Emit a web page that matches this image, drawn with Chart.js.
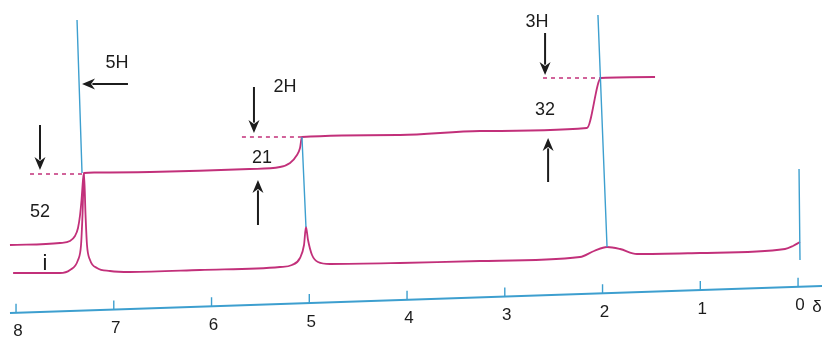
<!DOCTYPE html>
<html>
<head>
<meta charset="utf-8">
<script src="https://cdn.jsdelivr.net/npm/chart.js@4.4.1/dist/chart.umd.min.js"></script>
<style>
  html, body { margin: 0; padding: 0; background: #fff; }
  #wrap { width: 822px; height: 340px; }
</style>
</head>
<body>
<div id="wrap"><canvas id="nmr" width="822" height="340"></canvas></div>
<script>
// 1H trace: chemical shift (ppm) and signal height
const traceShift = [8.03, 7.55, 7.448, 7.366, 7.335, 7.32, 7.305, 7.289, 7.274, 7.243, 7.172, 7.039, 6.834, 6.12,
  5.30, 5.177, 5.095, 5.054, 5.034, 5.013, 4.972, 4.911, 4.788, 4.072, 3.253, 2.231, 2.087, 1.954, 1.821, 1.648,
  1.003, 0.133, 0.052, -0.02];
const traceHeight = [27, 27, 30, 40, 55, 85, 127, 85, 55, 40, 32, 29, 28, 30,
  33, 35, 42, 55, 73, 60, 45, 38, 36, 37, 39, 43, 49, 53, 51, 46,
  47, 51, 54, 58];

// integration curve
const integralShift = [8.062, 7.55, 7.448, 7.397, 7.366, 7.345, 7.33, 7.315, 7.305, 7.2, 6.63, 5.61, 5.30, 5.197,
  5.126, 5.095, 5.075, 4.072, 3.253, 2.16, 2.016, 1.463];
const integralHeight = [55, 57, 59, 64, 72, 85, 100, 120, 127, 127.5, 128, 131, 133, 137,
  145, 152, 163, 165, 169, 172, 222, 223];

// vertical markers dropped from each integral step to its peak
const markerTopShift = [7.376, 5.075, 2.047, -0.010];
const markerTopHeight = [280, 163, 285, 131];
const markerBottomShift = [7.325, 5.034, 1.954, -0.020];
const markerBottomHeight = [127, 73, 53, 40];

// dashed level lines at the top of each step
const levelStart = [7.857, 5.689, 2.609];
const levelEnd = [7.325, 5.075, 2.026];
const levelHeight = [126, 163, 222];

// ppm scale
const tickValues = [8, 7, 6, 5, 4, 3, 2, 1, 0];
const axisStart = { x: 8.062, y: -13 };
const axisEnd = { x: -0.245, y: 14 };

const protonLabels = ['5H', '2H', '3H'];
const stepLabels = ['52', '21', '32'];

const MAGENTA = '#c2307a';
const BLUE = '#3d9fcf';
const INK = '#1c1c1c';

function axisHeightAt(shift) {
  const t = (axisStart.x - shift) / (axisStart.x - axisEnd.x);
  return axisStart.y + t * (axisEnd.y - axisStart.y);
}

function pairs(xs, ys) {
  return xs.map((x, i) => ({ x, y: ys[i] }));
}

// several short segments in one dataset, split by null points
function segments(list) {
  const out = [];
  list.forEach((seg, i) => {
    if (i > 0) out.push({ x: seg[0].x, y: null });
    out.push(seg[0], seg[1]);
  });
  return out;
}

const markerData = segments(markerTopShift.map((s, i) => [
  { x: s, y: markerTopHeight[i] },
  { x: markerBottomShift[i], y: markerBottomHeight[i] },
]));

const levelData = segments(levelStart.map((s, i) => [
  { x: s, y: levelHeight[i] },
  { x: levelEnd[i], y: levelHeight[i] },
]));

const tickData = segments(tickValues.map((v) => [
  { x: v, y: axisHeightAt(v) },
  { x: v, y: axisHeightAt(v) + 9 },
]));

// text and arrows, in chart coordinates
const notes = [
  { text: protonLabels[0], x: 6.967, y: 237 },
  { text: stepLabels[0], x: 7.755, y: 88 },
  { text: protonLabels[1], x: 5.248, y: 213 },
  { text: stepLabels[1], x: 5.484, y: 142 },
  { text: protonLabels[2], x: 2.67, y: 278 },
  { text: stepLabels[2], x: 2.588, y: 190 },
];
const arrows = [
  [7.755, 175, 7.755, 130],
  [6.855, 216, 7.325, 216],
  [5.566, 213, 5.566, 167],
  [5.525, 75, 5.525, 120],
  [2.588, 267, 2.588, 225],
  [2.557, 118, 2.557, 162],
];

const annotationPlugin = {
  id: 'spectrumNotes',
  beforeDraw(chart) {
    const { ctx } = chart;
    ctx.save();
    ctx.fillStyle = '#fff';
    ctx.fillRect(0, 0, chart.width, chart.height);
    ctx.restore();
  },
  afterDatasetsDraw(chart) {
    const { ctx } = chart;
    const xs = chart.scales.x;
    const ys = chart.scales.y;
    ctx.save();
    ctx.fillStyle = INK;
    ctx.strokeStyle = INK;
    ctx.textAlign = 'center';
    ctx.textBaseline = 'middle';

    ctx.font = '18px "Liberation Sans", Arial, sans-serif';
    notes.forEach((n) => {
      ctx.fillText(n.text, xs.getPixelForValue(n.x), ys.getPixelForValue(n.y));
    });

    // small reference mark under the first integral
    ctx.font = '22px "Liberation Sans", Arial, sans-serif';
    ctx.fillText('i', xs.getPixelForValue(7.704), ys.getPixelForValue(36));

    arrows.forEach(([x1, y1, x2, y2]) => {
      const ax = xs.getPixelForValue(x1);
      const ay = ys.getPixelForValue(y1);
      const bx = xs.getPixelForValue(x2);
      const by = ys.getPixelForValue(y2);
      const ang = Math.atan2(by - ay, bx - ax);
      const head = 13;
      const half = 5.5;
      ctx.lineWidth = 2;
      ctx.beginPath();
      ctx.moveTo(ax, ay);
      ctx.lineTo(bx - Math.cos(ang) * head * 0.8, by - Math.sin(ang) * head * 0.8);
      ctx.stroke();
      ctx.beginPath();
      ctx.moveTo(bx, by);
      ctx.lineTo(bx - Math.cos(ang) * head - Math.sin(ang) * half, by - Math.sin(ang) * head + Math.cos(ang) * half);
      ctx.lineTo(bx - Math.cos(ang) * head * 0.7, by - Math.sin(ang) * head * 0.7);
      ctx.lineTo(bx - Math.cos(ang) * head + Math.sin(ang) * half, by - Math.sin(ang) * head - Math.cos(ang) * half);
      ctx.closePath();
      ctx.fill();
    });

    // ppm labels under the tilted axis
    ctx.font = '17px "Liberation Sans", Arial, sans-serif';
    tickValues.forEach((v) => {
      ctx.fillText(String(v), xs.getPixelForValue(v) + 2, ys.getPixelForValue(axisHeightAt(v)) + 19);
    });
    ctx.fillText('δ', xs.getPixelForValue(-0.194), ys.getPixelForValue(axisHeightAt(-0.194)) + 21);
    ctx.restore();
  },
};

function initSpectrum() {
  const canvas = document.getElementById('nmr');
  if (!canvas) return;

  const line = (data, color, width, extra) => Object.assign({
    data,
    borderColor: color,
    borderWidth: width,
    pointRadius: 0,
    fill: false,
    spanGaps: false,
  }, extra || {});

  // eslint-disable-next-line no-new
  new Chart(canvas.getContext('2d'), {
    type: 'line',
    data: {
      datasets: [
        line(markerData, BLUE, 1.4, { tension: 0 }),
        line(pairs(traceShift, traceHeight), MAGENTA, 1.8, { cubicInterpolationMode: 'monotone' }),
        line(pairs(integralShift, integralHeight), MAGENTA, 1.8, { cubicInterpolationMode: 'monotone' }),
        line(levelData, MAGENTA, 1.5, { borderDash: [4, 4], tension: 0 }),
        line([axisStart, axisEnd], BLUE, 1.8, { tension: 0 }),
        line(tickData, BLUE, 1.4, { tension: 0 }),
      ],
    },
    options: {
      responsive: false,
      animation: false,
      layout: { padding: 0 },
      scales: {
        x: { type: 'linear', reverse: true, min: -0.245, max: 8.164, display: false },
        y: { type: 'linear', min: -40, max: 300, display: false },
      },
      plugins: {
        legend: { display: false },
        tooltip: { enabled: false },
      },
    },
    plugins: [annotationPlugin],
  });
}

if (document.readyState === 'loading') {
  document.addEventListener('DOMContentLoaded', initSpectrum);
} else {
  initSpectrum();
}
</script>
</body>
</html>
